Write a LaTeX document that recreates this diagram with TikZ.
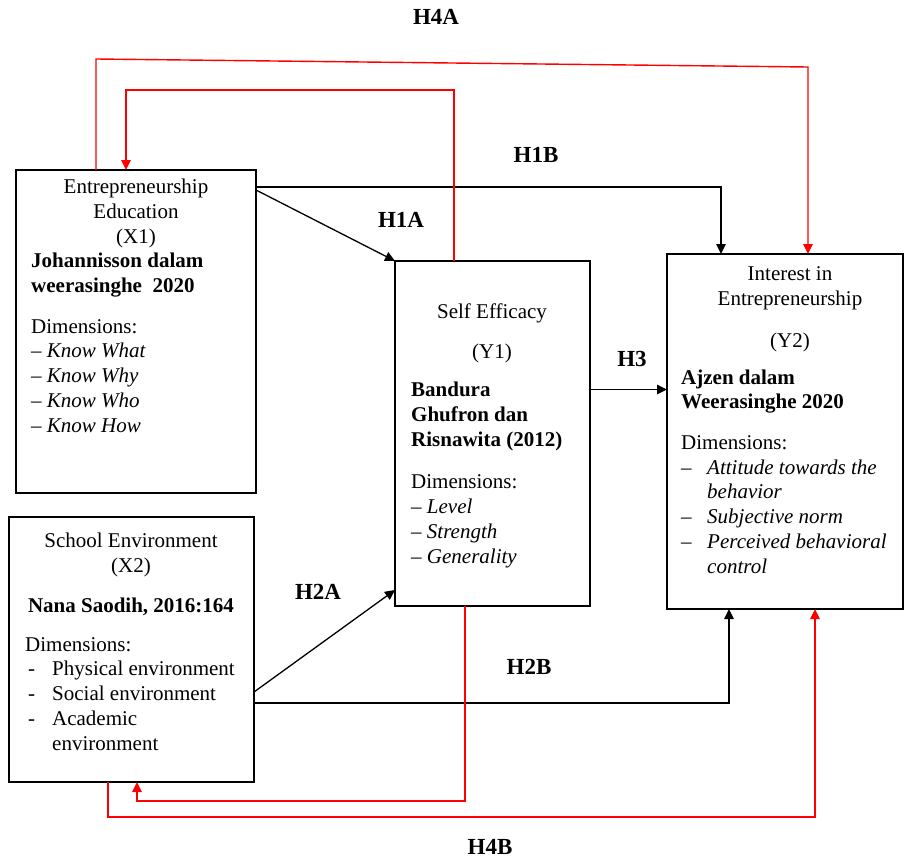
\documentclass[tikz,border=0pt]{standalone}
\usepackage{fontspec}
\setmainfont{Liberation Serif}
\usetikzlibrary{arrows.meta}

\begin{document}
\begin{tikzpicture}[x=1pt,y=1pt,
  font=\fontsize{21}{24.7}\selectfont,
  box/.style={draw,line width=1.4pt,anchor=north west,inner sep=0pt,outer sep=0pt},
  txt/.style={inner sep=0pt},
  hyp/.style={font=\fontsize{23}{26}\selectfont\bfseries,inner sep=1pt},
  arr/.style={line width=1.3pt,-{Triangle[length=10pt,width=9.5pt]}},
  redarr/.style={arr,red,line width=1.4pt}]
\useasboundingbox (0,0) rectangle (905,-859);
% boxes
\node[box,minimum width=240pt,minimum height=323pt] (x1) at (16,-170) {};
\node[box,minimum width=195pt,minimum height=345pt] (y1) at (395,-261) {};
\node[box,minimum width=236pt,minimum height=355pt] (y2) at (667,-254) {};
\node[box,minimum width=245pt,minimum height=265pt] (x2) at (9,-517) {};
% texts of the boxes (anchored at the baseline of their last line)
\node[txt,anchor=base,align=center] (x1title) at (136,-243) {Entrepreneurship\\Education\\(X1)};
\node[txt,anchor=base west,align=left] (x1body) at (31,-432) {\textbf{Johannisson dalam}\\\textbf{weerasinghe\ \ 2020}\\[16pt]Dimensions:\\-- \textit{Know What}\\-- \textit{Know Why}\\-- \textit{Know Who}\\-- \textit{Know How}};
\node[txt,anchor=base,align=center] (y1title) at (492,-358) {Self Efficacy\\[15pt](Y1)};
\node[txt,anchor=base west,align=left] (y1body) at (411,-563) {\textbf{Bandura}\\\textbf{Ghufron dan}\\\textbf{Risnawita (2012)}\\[18pt]Dimensions:\\-- \textit{Level}\\-- \textit{Strength}\\-- \textit{Generality}};
\node[txt,anchor=base,align=center] (y2title) at (790,-347) {Interest in\\Entrepreneurship\\[17pt](Y2)};
\node[txt,anchor=base west,align=left] (y2body) at (681,-573) {\textbf{Ajzen dalam}\\\textbf{Weerasinghe 2020}\\[16pt]Dimensions:\\\makebox[26pt][l]{--}\textit{Attitude towards the}\\\hspace*{26pt}\textit{behavior}\\\makebox[26pt][l]{--}\textit{Subjective norm}\\\makebox[26pt][l]{--}\textit{Perceived behavioral}\\\hspace*{26pt}\textit{control}};
\node[txt,anchor=base,align=center] (x2title) at (131,-612) {School Environment\\(X2)\\[15pt]\textbf{Nana Saodih, 2016:164}};
\node[txt,anchor=base west,align=left] (x2body) at (25,-750) {Dimensions:\\\makebox[27pt][l]{\hspace{3pt}-}Physical environment\\\makebox[27pt][l]{\hspace{3pt}-}Social environment\\\makebox[27pt][l]{\hspace{3pt}-}Academic\\\hspace*{27pt}environment};
% black paths
\draw[arr] ([yshift=-20pt]x1.north east) -- (y1.north west);
\draw[arr] ([yshift=-17pt]x1.north east) -| ([xshift=54pt]y2.north west);
\coordinate (h3) at ([yshift=44pt]y1.east);
\draw[arr] (h3) -- (h3 -| y2.west);
\draw[arr] ([yshift=90pt]x2.south east) -- ([yshift=16pt]y1.south west);
\draw[arr] ([yshift=79pt]x2.south east) -| ([xshift=62pt]y2.south west);
% red paths
\coordinate (h4a) at (808,-67);
\draw[redarr] ([xshift=80pt]x1.north west) -- ++(0,111) -- (h4a) -- (h4a |- y2.north);
\draw[redarr] ([xshift=59pt]y1.north west) -- ++(0,171) -| ([xshift=110pt]x1.north west);
\draw[redarr] ([xshift=70pt]y1.south west) -- ++(0,-195) -| ([xshift=128pt]x2.south west);
\draw[redarr] ([xshift=99pt]x2.south west) -- ++(0,-35) -| ([xshift=148pt]y2.south west);
% hypothesis labels
\node[hyp] (h4alab) at (436,-17) {H4A};
\node[hyp] (h1blab) at (536,-155) {H1B};
\node[hyp] (h1alab) at (401,-220) {H1A};
\node[hyp] (h3lab) at (632,-359) {H3};
\node[hyp] (h2alab) at (318,-592) {H2A};
\node[hyp] (h2blab) at (529,-667) {H2B};
\node[hyp] (h4blab) at (490,-847) {H4B};
\end{tikzpicture}
\end{document}
